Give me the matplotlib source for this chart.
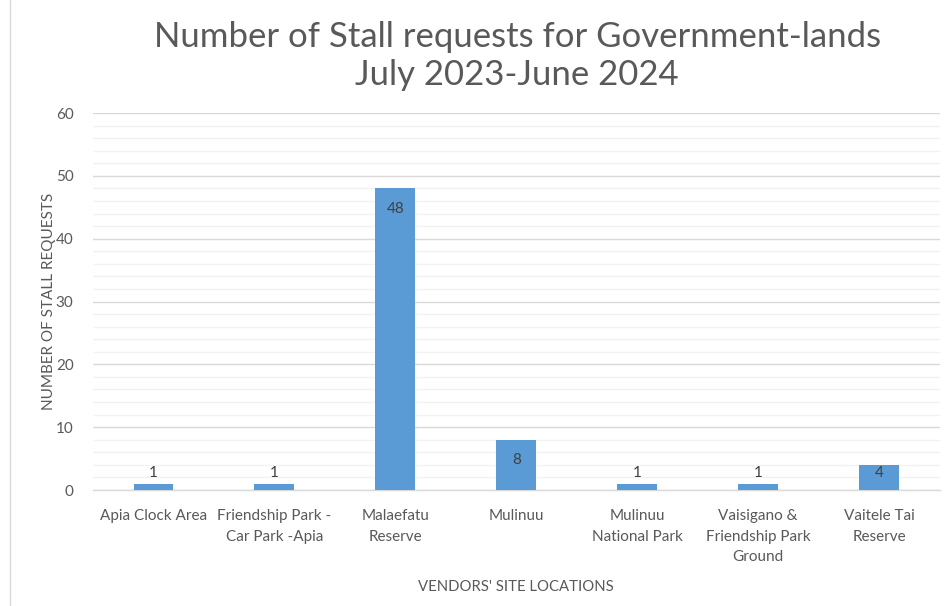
import numpy as np
import matplotlib.pyplot as plt
from matplotlib.ticker import MultipleLocator
from matplotlib.lines import Line2D

plt.rcParams['font.family'] = ['Lato', 'DejaVu Sans']

sitios = ["Apia Clock Area", "Friendship Park -\nCar Park -Apia", "Malaefatu\nReserve",
          "Mulinuu", "Mulinuu\nNational Park", "Vaisigano &\nFriendship Park\nGround",
          "Vaitele Tai\nReserve"]
solicitudes = [1, 1, 48, 8, 1, 1, 4]

gris = "#595959"
azul = "#5B9BD5"

fig = plt.figure(figsize=(9.49, 6.06), dpi=100)
ax = fig.add_axes([0.098, 0.1914, 0.892, 0.6221])

x = np.arange(len(sitios))
ax.bar(x, solicitudes, width=0.33, color=azul, zorder=3)

# etiquetas de datos, dentro del extremo, sin bajar de la base
for xi, v in zip(x, solicitudes):
    ax.text(xi, max(v - 3.2, 2.7), str(v), ha='center', va='center',
            fontsize=11, color="#404040", zorder=4)

ax.set_xlim(-0.5, len(sitios) - 0.5)
ax.set_ylim(0, 60)
ax.yaxis.set_major_locator(MultipleLocator(10))
ax.yaxis.set_minor_locator(MultipleLocator(2))
ax.grid(axis='y', which='major', color="#D9D9D9", linewidth=1.0, zorder=0)
ax.grid(axis='y', which='minor', color="#F2F2F2", linewidth=1.0, zorder=0)

for s in ['top', 'right', 'left']:
    ax.spines[s].set_visible(False)
ax.spines['bottom'].set_color("#D9D9D9")
ax.spines['bottom'].set_linewidth(1.0)

ax.set_xticks(x)
ax.set_xticklabels(sitios, fontsize=11, color=gris, linespacing=1.55)
ax.tick_params(axis='both', which='both', length=0, labelcolor=gris)
ax.tick_params(axis='x', pad=14)
ax.tick_params(axis='y', labelsize=11, pad=14)

ax.set_xlabel("VENDORS' SITE LOCATIONS", fontsize=10.7, color=gris, labelpad=12)
ax.set_ylabel("NUMBER OF STALL REQUESTS", fontsize=11, color=gris, labelpad=0)

fig.text(0.545, 0.908, "Number of Stall requests for Government-lands\nJuly 2023-June 2024",
         ha='center', va='center', fontsize=25, color=gris, linespacing=1.25)

# borde del gráfico
fig.add_artist(Line2D([0.011, 0.011], [0.0, 1.0], color="#D9D9D9", linewidth=1.0))

fig.savefig("out.png", dpi=100)
